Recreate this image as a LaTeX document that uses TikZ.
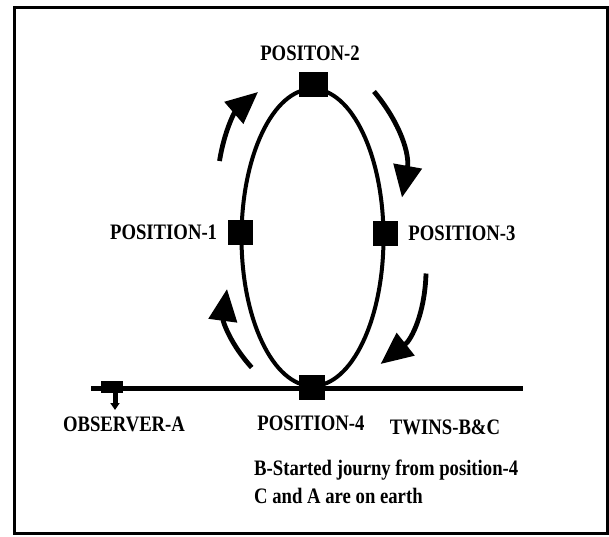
\documentclass[tikz,border=0pt]{standalone}
\usepackage{fontspec}
\setmainfont{Liberation Serif}
\usepackage{tikz}
\usetikzlibrary{arrows.meta,positioning}
\tikzset{
  orb/.style={line width=4pt},
  gnd/.style={line width=5pt},
  mv/.style={line width=4.8pt,-{Triangle[length=32pt,width=28pt]}},
  sq/.style={fill=black,minimum width=25pt,minimum height=25pt,inner sep=0pt},
  lbl/.style={inner sep=0pt,yscale=1.18,transform shape,font=\bfseries\fontsize{18.7}{22}\selectfont}
}

\begin{document}
\begin{tikzpicture}[x=1pt,y=1pt]
\useasboundingbox (0,0) rectangle (609,536);
\draw[line width=3pt] (14,3) rectangle (607,528);
% orbit and ground
\draw[orb] (312.5,298.5) ellipse (71 and 148.5);
\coordinate (gl) at (91,148); \coordinate (gr) at (523,148);
\draw[gnd] (gl) -- (gr);
% positions
\node[sq,minimum width=29pt] (pos2) at (313.5,451) {};
\node[sq] (pos1) at (240,304) {};
\node[sq] (pos3) at (385.5,303) {};
\node[sq,minimum width=26pt] (pos4) at (312,148.5) {};
\node[sq,minimum width=22pt,minimum height=12pt] (obs) at (112,149) {};
\coordinate (obsend) at (115,126);
\draw[line width=5pt,-{Triangle[length=7pt,width=9pt]}] (obs.south -| obsend) -- (obsend);
% labels
\node[lbl] (l2) at (310,483) {POSITON-2};
\node[lbl,left=10pt of pos1] (l1) {POSITION-1};
\node[lbl,right=10pt of pos3] (l3) {POSITION-3};
\node[lbl] (l4) at (311,113) {POSITION-4};
\node[lbl] (lobs) at (124,111.5) {OBSERVER-A};
\node[lbl] (ltw) at (445,109) {TWINS-B\&C};
\node[lbl,anchor=west] (n1) at (254,66) {B-Started journy from position-4};
\node[lbl,anchor=west] (n2) at (254,40) {C and A are on earth};
% direction of travel
\coordinate (a1s) at (219.5,375); \coordinate (a1e) at (258,444);
\coordinate (a2s) at (374,444.5); \coordinate (a2e) at (402,338.5);
\coordinate (a3s) at (426,262.5); \coordinate (a3e) at (380.6,172);
\coordinate (a4s) at (251.7,168.5); \coordinate (a4e) at (227,247);
\draw[mv] (a1s) to[bend left=20] (a1e);
\draw[mv] (a2s) to[bend left=25] (a2e);
\draw[mv] (a3s) to[bend left=25] (a3e);
\draw[mv] (a4s) to[bend left=25] (a4e);
\end{tikzpicture}
\end{document}
